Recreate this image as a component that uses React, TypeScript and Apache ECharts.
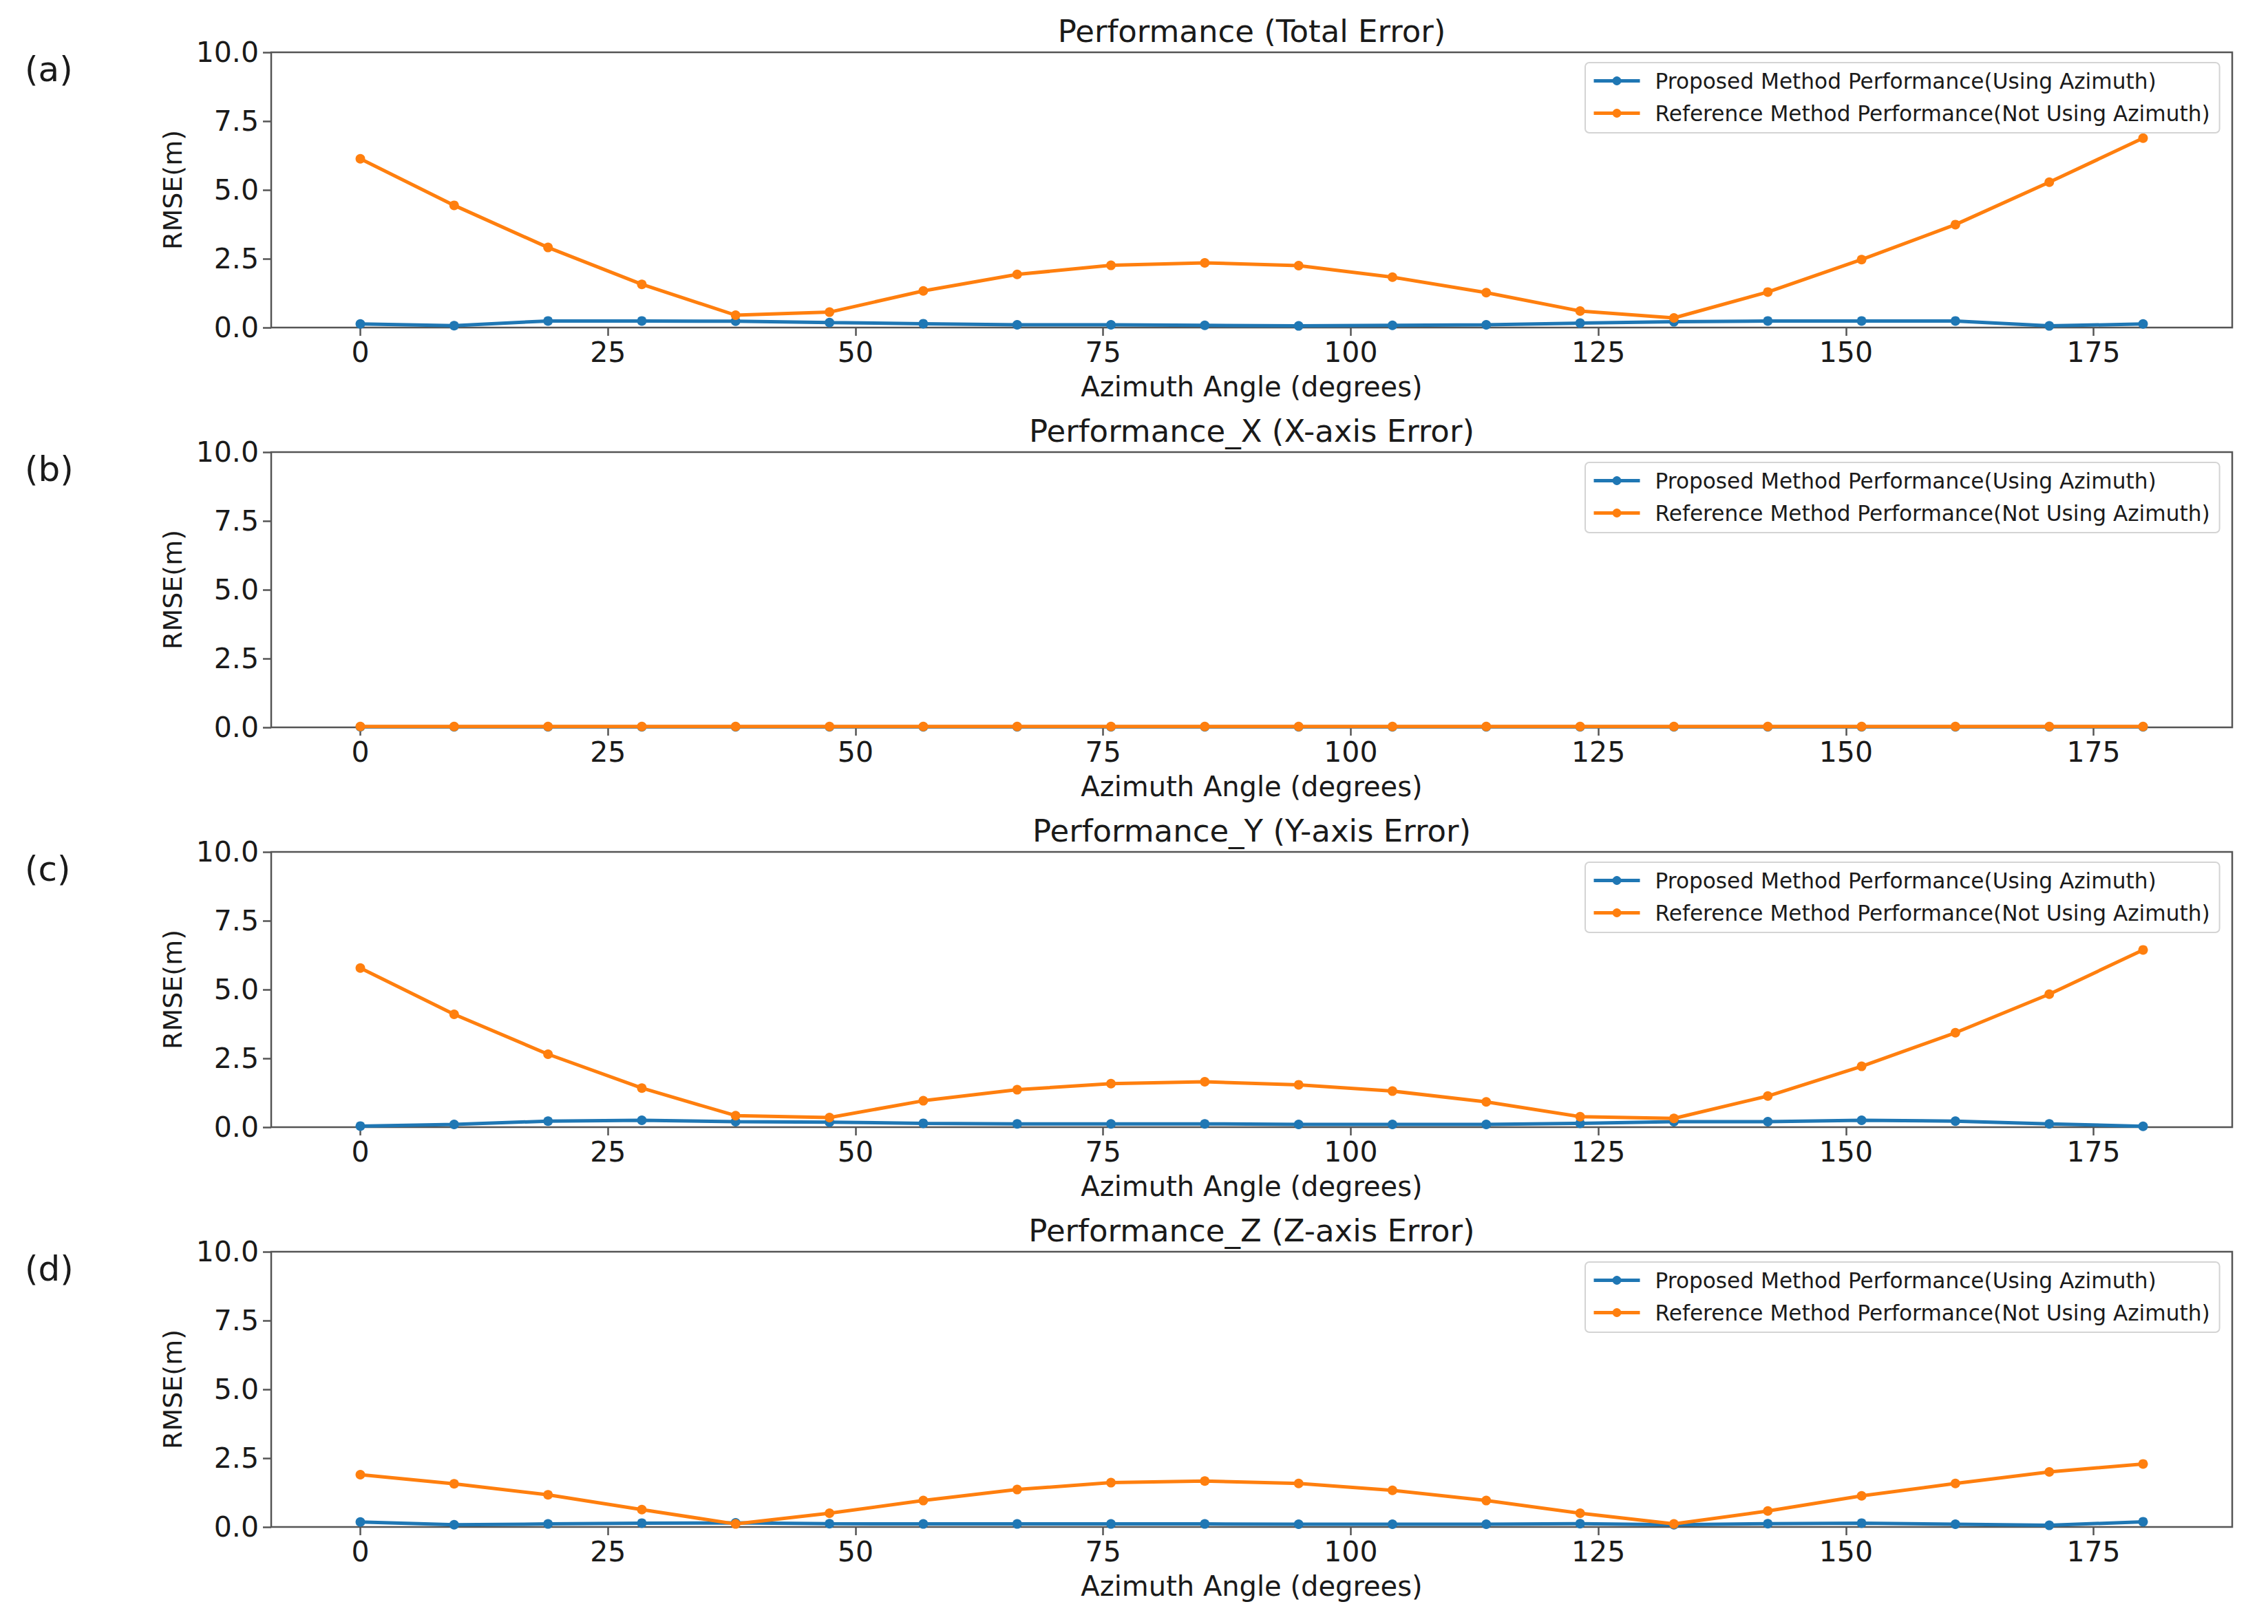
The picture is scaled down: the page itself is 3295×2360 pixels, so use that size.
import React, { useEffect, useRef } from "react";
import * as echarts from "echarts";

const ANGLES = [0, 9.47, 18.95, 28.42, 37.89, 47.37, 56.84, 66.32, 75.79, 85.26, 94.74, 104.21, 113.68, 123.16, 132.63, 142.11, 151.58, 161.05, 170.53, 180];
const X_TICKS = [0, 25, 50, 75, 100, 125, 150, 175];

const TITLES = ["Performance (Total Error)", "Performance_X (X-axis Error)", "Performance_Y (Y-axis Error)", "Performance_Z (Z-axis Error)"];
const PANEL_LABELS = ["(a)", "(b)", "(c)", "(d)"];
const PROPOSED_NAME = "Proposed Method Performance(Using Azimuth)";
const REFERENCE_NAME = "Reference Method Performance(Not Using Azimuth)";

const totalProposed = [0.13, 0.07, 0.24, 0.24, 0.23, 0.18, 0.14, 0.1, 0.1, 0.08, 0.06, 0.08, 0.1, 0.16, 0.21, 0.24, 0.24, 0.24, 0.06, 0.13];
const totalReference = [6.13, 4.44, 2.91, 1.57, 0.45, 0.56, 1.33, 1.93, 2.26, 2.35, 2.25, 1.83, 1.27, 0.6, 0.35, 1.29, 2.47, 3.74, 5.28, 6.88];
const xProposed = [0.02, 0.02, 0.02, 0.02, 0.02, 0.02, 0.02, 0.02, 0.02, 0.02, 0.02, 0.02, 0.02, 0.02, 0.02, 0.02, 0.02, 0.02, 0.02, 0.02];
const xReference = [0.03, 0.03, 0.03, 0.03, 0.03, 0.03, 0.03, 0.03, 0.03, 0.03, 0.03, 0.03, 0.03, 0.03, 0.03, 0.03, 0.03, 0.03, 0.03, 0.03];
const yProposed = [0.04, 0.1, 0.22, 0.25, 0.2, 0.18, 0.14, 0.12, 0.12, 0.12, 0.1, 0.1, 0.1, 0.14, 0.2, 0.2, 0.25, 0.22, 0.12, 0.03];
const yReference = [5.78, 4.1, 2.65, 1.42, 0.42, 0.35, 0.96, 1.36, 1.58, 1.65, 1.54, 1.31, 0.92, 0.38, 0.32, 1.13, 2.21, 3.43, 4.83, 6.44];
const zProposed = [0.18, 0.08, 0.11, 0.14, 0.15, 0.12, 0.11, 0.11, 0.11, 0.11, 0.1, 0.1, 0.1, 0.12, 0.08, 0.12, 0.14, 0.1, 0.06, 0.19];
const zReference = [1.9, 1.57, 1.17, 0.63, 0.11, 0.5, 0.96, 1.36, 1.61, 1.67, 1.58, 1.33, 0.96, 0.5, 0.11, 0.58, 1.13, 1.58, 2.0, 2.29];

const PROPOSED = [totalProposed, xProposed, yProposed, zProposed];
const REFERENCE = [totalReference, xReference, yReference, zReference];

const BLUE = "#1f77b4";
const ORANGE = "#ff7f0e";
const TEXT = "#1a1a1a";
const SPINE = "#555555";
const FONT = "DejaVu Sans";

const W = 3295;
const H = 2360;
const LEFT = 394;
const RIGHT = 3243;
const TOP0 = 76;
const STEP = 581;
const PH = 400;

export default function App() {
  const ref = useRef<HTMLDivElement>(null);
  useEffect(() => {
    document.body.style.margin = "0";
    const chart = echarts.init(ref.current!, null, { renderer: "svg", width: W, height: H });
    const grids: any[] = [];
    const xAxes: any[] = [];
    const yAxes: any[] = [];
    const series: any[] = [];
    const titles: any[] = [];
    const legends: any[] = [];
    const graphics: any[] = [];
    for (let i = 0; i < 4; i++) {
      const top = TOP0 + STEP * i;
      grids.push({
        left: LEFT,
        top,
        width: RIGHT - LEFT,
        height: PH,
        show: true,
        borderColor: SPINE,
        borderWidth: 2.5,
        backgroundColor: "#fff",
      });
      xAxes.push({
        type: "value",
        gridIndex: i,
        min: -9,
        max: 189,
        name: "Azimuth Angle (degrees)",
        nameLocation: "middle",
        nameGap: 66,
        nameTextStyle: { fontFamily: FONT, fontSize: 40, color: TEXT },
        axisLine: { show: false, onZero: false },
        splitLine: { show: false },
        axisTick: { show: true, length: 12, lineStyle: { color: SPINE, width: 2.5 }, customValues: X_TICKS },
        axisLabel: { fontFamily: FONT, fontSize: 41, color: TEXT, margin: 15, customValues: X_TICKS },
      });
      yAxes.push({
        type: "value",
        gridIndex: i,
        min: 0,
        max: 10,
        interval: 2.5,
        name: "RMSE(m)",
        nameLocation: "middle",
        nameGap: 124,
        nameTextStyle: { fontFamily: FONT, fontSize: 38, color: TEXT },
        axisLine: { show: false, onZero: false },
        splitLine: { show: false },
        axisTick: { show: true, length: 12, lineStyle: { color: SPINE, width: 2.5 } },
        axisLabel: { fontFamily: FONT, fontSize: 41, color: TEXT, margin: 18, formatter: (v: number) => v.toFixed(1) },
      });
      const mk = (name: string, vals: number[], color: string, z: number) => ({
        type: "line",
        name,
        xAxisIndex: i,
        yAxisIndex: i,
        data: ANGLES.map((a, k) => [a, vals[k]]),
        symbol: "circle",
        symbolSize: 14,
        showSymbol: true,
        color,
        lineStyle: { color, width: 5 },
        itemStyle: { color },
        z,
        clip: false,
      });
      series.push(mk(PROPOSED_NAME, PROPOSED[i], BLUE, 2));
      series.push(mk(REFERENCE_NAME, REFERENCE[i], ORANGE, 3));
      titles.push({
        text: TITLES[i],
        left: (LEFT + RIGHT) / 2,
        textAlign: "center",
        top: 23 + STEP * i,
        padding: 0,
        textStyle: { fontFamily: FONT, fontSize: 45, fontWeight: "normal", color: TEXT },
      });
      legends.push({
        orient: "vertical",
        left: 2303,
        top: 91 + STEP * i,
        padding: [11, 14, 13, 10],
        itemGap: 16,
        itemWidth: 67,
        itemHeight: 16,
        lineStyle: { width: 5 },
        backgroundColor: "rgba(255,255,255,0.8)",
        borderColor: "#d4d4d4",
        borderWidth: 2,
        borderRadius: 6,
        textStyle: { fontFamily: FONT, fontSize: 31.2, color: TEXT, padding: [0, 0, 0, 17] },
        data: [PROPOSED_NAME, REFERENCE_NAME],
      });
      graphics.push({
        type: "text",
        left: 36,
        top: 76 + STEP * i,
        style: { text: PANEL_LABELS[i], font: `50px "${FONT}"`, fill: TEXT },
      });
    }
    chart.setOption({
      animation: false,
      backgroundColor: "#ffffff",
      textStyle: { fontFamily: FONT },
      title: titles,
      grid: grids,
      xAxis: xAxes,
      yAxis: yAxes,
      legend: legends,
      series,
      graphic: graphics,
    });
    return () => chart.dispose();
  }, []);
  return <div ref={ref} style={{ width: W, height: H }} />;
}
